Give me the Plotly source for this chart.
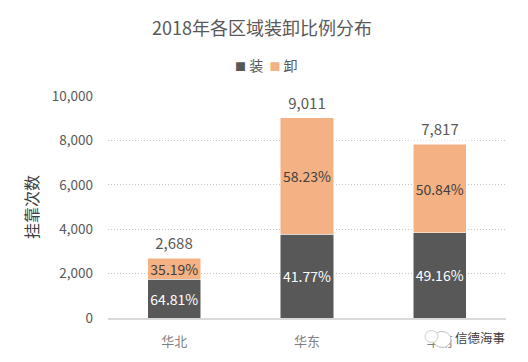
import plotly.graph_objects as go

categories = ["华北", "华东", "华南"]
load_values = [1742, 3764, 3843]
unload_values = [946, 5247, 3974]
totals = [2688, 9011, 7817]
load_labels = ["64.81%", "41.77%", "49.16%"]
unload_labels = ["35.19%", "58.23%", "50.84%"]
y_ticks = [0, 2000, 4000, 6000, 8000, 10000]

FONT = "Noto Sans CJK SC"
W, H = 520, 354


def px(x):
    return (x - 108) / 398


def py(y):
    return (318.5 - y) / 222


fig = go.Figure()
fig.add_bar(name="装", x=categories, y=load_values, marker=dict(color="#585858", line=dict(color="#ffffff", width=0.5)),
            text=load_labels, textposition="inside", insidetextanchor="middle", constraintext="none",
            textangle=0, textfont=dict(color="#ffffff", size=14, family=FONT), hoverinfo="skip")
fig.add_bar(name="卸", x=categories, y=unload_values, marker=dict(color="#f4b183", line=dict(color="#ffffff", width=0.5)),
            text=unload_labels, textposition="inside", insidetextanchor="middle", constraintext="none",
            textangle=0, textfont=dict(color="#404040", size=14, family=FONT), hoverinfo="skip")

for c, t in zip(categories, totals):
    fig.add_annotation(x=c, y=t, text=f"{t:,}", showarrow=False, yanchor="bottom", yshift=3, width=60,
                       bgcolor="#ffffff", font=dict(size=15, color="#595959", family=FONT))

# legend row
fig.add_annotation(xref="paper", yref="paper", x=px(266), y=py(66), xanchor="center", yanchor="middle",
                   showarrow=False, font=dict(size=14, color="#595959", family=FONT),
                   text='<span style="color:#585858;font-size:11px">■</span> 装  <span style="color:#f4b183;font-size:11px">■</span> 卸')

# watermark icon and text
fig.add_shape(type="circle", xref="paper", yref="paper", x0=px(433), x1=px(451),
              y0=py(348), y1=py(332), fillcolor="#ffffff", line=dict(color="#bdbdbd", width=1))
fig.add_shape(type="circle", xref="paper", yref="paper", x0=px(425), x1=px(438),
              y0=py(343), y1=py(331), fillcolor="#ffffff", line=dict(color="#cfcfcf", width=1))
fig.add_annotation(xref="paper", yref="paper", x=px(507), y=py(338), xanchor="right", yanchor="middle",
                   text="信德海事", showarrow=False, font=dict(size=12.5, color="#404040", family=FONT))

fig.update_layout(
    width=W, height=H, barmode="stack", bargap=0.6,
    paper_bgcolor="#ffffff", plot_bgcolor="#ffffff",
    margin=dict(l=100, r=22, t=88, b=43.5), autosize=False,
    font=dict(family=FONT, color="#595959"),
    title=dict(text="2018年各区域装卸比例分布", x=(262-8)/W, xanchor="center", y=1-21/H, yanchor="middle",
               font=dict(size=18, color="#595959", family=FONT)),
    showlegend=False,
)
fig.update_xaxes(showline=True, linecolor="#d9d9d9", linewidth=1.5, ticks="",
                 tickfont=dict(size=13, color="#7f7f7f", family=FONT), ticklabelstandoff=11)
fig.update_yaxes(range=[0, 10000], tickvals=y_ticks, tickformat=",", showgrid=True, griddash="1px,2px",
                 gridcolor="#c4c4c4", gridwidth=1, zeroline=False, ticks="", ticklabelstandoff=14,
                 tickfont=dict(size=13.5, color="#595959", family=FONT),
                 title=dict(text="挂靠次数", font=dict(size=16, color="#404040", family=FONT), standoff=9))
fig.write_html("out.html")
